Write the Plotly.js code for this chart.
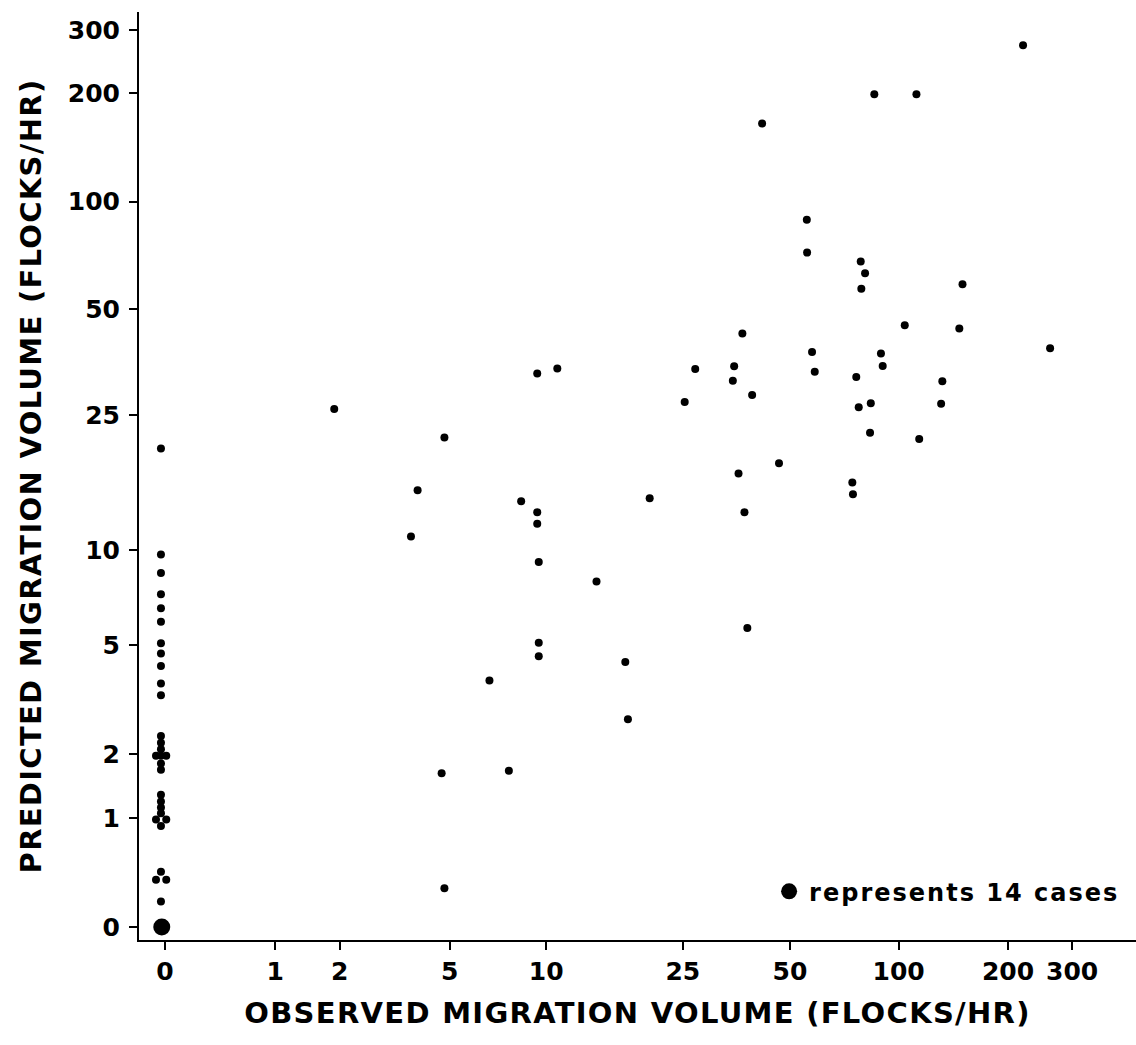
<!DOCTYPE html>
<html>
<head>
<meta charset="utf-8">
<script src="https://cdn.plot.ly/plotly-3.0.1.min.js"></script>
<style>
  html, body { margin: 0; padding: 0; background: #fff; }
  #chart { width: 1136px; height: 1045px; }
  .g-xtitle text, .g-ytitle text { letter-spacing: 1.3px; }
  .legendtext { letter-spacing: 2px; }
</style>
</head>
<body>
<div id="chart"></div>
<script>
// Observed vs predicted migration volume (flocks/hr), axes on a log(v + 1) scale.

// Cases with a non-zero observed volume
const observed = [
  1.9, 4.8, 25.3, 3.9, 8.4, 9.4, 9.4, 20.1, 3.7, 9.5,
  14.1, 9.5, 9.5, 17.1, 6.7, 17.4, 4.7, 7.7, 4.8, 55.7,
  55.8, 78.6, 80.8, 78.9, 150, 104, 147, 261, 36.8, 57.6,
  58.6, 89.4, 90.4, 76.4, 132, 131, 77.6, 83.8, 83.4, 114,
  27.1, 34.9, 34.6, 39.2, 46.6, 35.9, 74.5, 74.8, 37.3, 38,
  220, 85.7, 112, 41.8, 9.4, 10.8
];
const predicted = [
  26, 21.5, 27.2, 15.1, 14, 13, 12, 14.3, 11, 9.2,
  8, 5.1, 4.6, 4.4, 3.8, 2.75, 1.66, 1.7, 0.28, 89,
  72, 68, 63, 57, 58.7, 45, 44, 38.7, 42.6, 37.8,
  33.2, 37.4, 34.5, 32.1, 31.2, 26.9, 26.3, 27, 22.2, 21.3,
  33.8, 34.4, 31.3, 28.5, 18.1, 16.9, 15.9, 14.7, 13, 5.7,
  272, 199, 199, 165, 32.8, 33.9
];

// Cases with zero observed volume (drawn as a column at the origin of x)
const observedZero = [
  -0.025, -0.025, -0.025, -0.025, -0.025, -0.025, -0.025, -0.025, -0.025, -0.025, -0.025,
  -0.025, -0.025, -0.025, -0.025, -0.025, -0.025,
  -0.025, -0.025, -0.025, -0.025, -0.025,
  -0.025, -0.025,
  -0.055, 0.008, -0.055, 0.008, -0.055, 0.008
];
const predictedZero = [
  20.0, 9.7, 8.5, 7.3, 6.6, 5.97, 5.08, 4.7, 4.26, 3.71, 3.37,
  2.37, 2.23, 2.10, 1.97, 1.83, 1.72,
  1.32, 1.22, 1.14, 1.06, 0.90,
  0.42, 0.175,
  1.97, 1.97, 0.98, 0.98, 0.35, 0.35
];

// The large dot: 14 cases at (0, 0)
const groupObserved = [-0.02];
const groupPredicted = [0];
const groupLabel = 'represents 14 cases';

// Tick values (shown labels) for both axes
const tickValues = [0, 1, 2, 5, 10, 25, 50, 100, 200, 300];
const tickLabels = ['0', '1', '2', '5', '10', '25', '50', '100', '200', '300'];

const plus1 = a => a.map(v => v + 1);

const FONT = 'DejaVu Sans, Arial, sans-serif';

const dotStyle = { color: '#000', size: 8, line: { width: 0 } };

const traces = [
  {
    type: 'scatter', mode: 'markers',
    x: plus1(observed), y: plus1(predicted),
    marker: dotStyle, showlegend: false, hoverinfo: 'skip'
  },
  {
    type: 'scatter', mode: 'markers',
    x: plus1(observedZero), y: plus1(predictedZero),
    marker: dotStyle, showlegend: false, hoverinfo: 'skip'
  },
  {
    type: 'scatter', mode: 'markers',
    x: plus1(groupObserved), y: plus1(groupPredicted),
    marker: { color: '#000', size: 17, line: { width: 0 } },
    name: groupLabel, showlegend: true, hoverinfo: 'skip'
  }
];

const axisCommon = {
  type: 'log',
  tickmode: 'array',
  tickvals: plus1(tickValues),
  ticktext: tickLabels,
  ticks: 'outside',
  ticklen: 8,
  tickwidth: 2,
  tickcolor: '#000',
  showline: true,
  linewidth: 2,
  linecolor: '#000',
  showgrid: false,
  zeroline: false,
  tickfont: { family: FONT, size: 25, color: '#000', weight: 'bold' }
};

const layout = {
  width: 1136,
  height: 1045,
  margin: { l: 139, r: 0, t: 12, b: 105 },
  paper_bgcolor: '#fff',
  plot_bgcolor: '#fff',
  font: { family: FONT, color: '#000', weight: 'bold' },
  showlegend: true,
  legend: {
    x: 0.632, y: 0.052, xanchor: 'left', yanchor: 'middle',
    bgcolor: 'rgba(0,0,0,0)', borderwidth: 0,
    font: { family: FONT, size: 24, color: '#000', weight: 'bold' }
  },
  xaxis: Object.assign({}, axisCommon, {
    range: [-0.071, 2.653],
    title: {
      text: 'OBSERVED MIGRATION VOLUME (FLOCKS/HR)',
      font: { family: FONT, size: 29, color: '#000', weight: 'bold' },
      standoff: 18
    }
  }),
  yaxis: Object.assign({}, axisCommon, {
    range: [-0.036, 2.528],
    ticklabelstandoff: 4,
    title: {
      text: 'PREDICTED MIGRATION VOLUME (FLOCKS/HR)',
      font: { family: FONT, size: 29, color: '#000', weight: 'bold' },
      standoff: 18
    }
  })
};

Plotly.newPlot('chart', traces, layout, { displayModeBar: false, staticPlot: true });
</script>
</body>
</html>
